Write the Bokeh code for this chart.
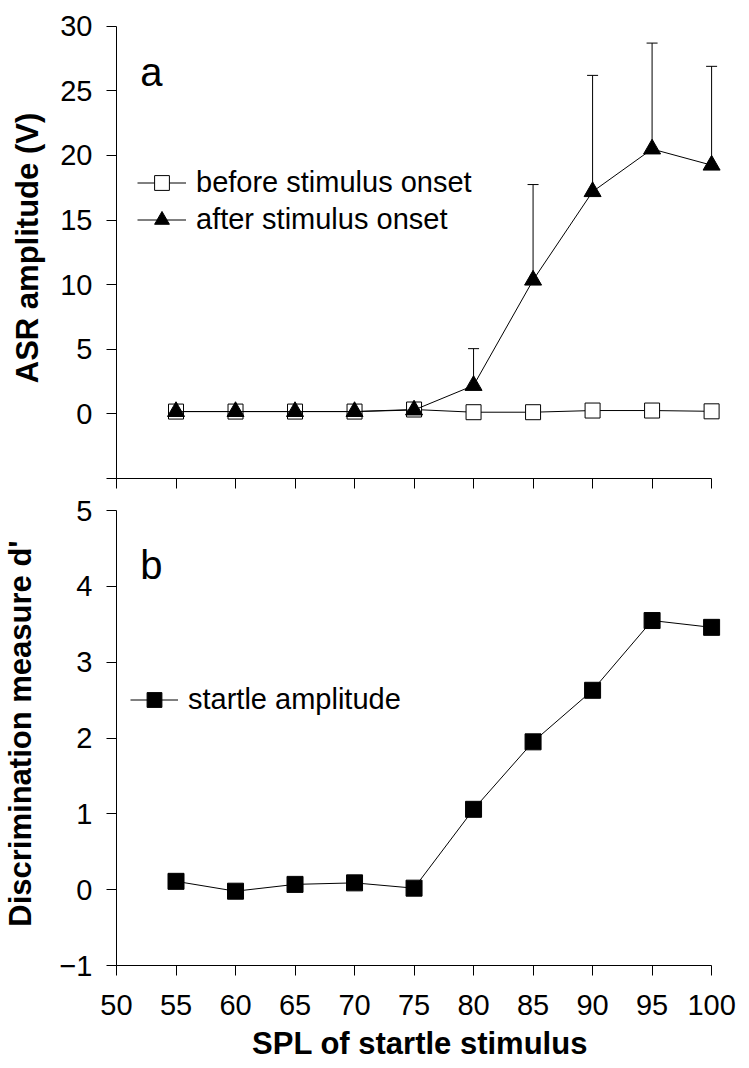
from bokeh.plotting import figure
from bokeh.layouts import column
from bokeh.models import (ColumnDataSource, FixedTicker, Legend, LegendItem,
                          Whisker, TeeHead, Label, Range1d)
from bokeh.embed import file_html
from bokeh.resources import INLINE

# ---- data ----
spl = [55, 60, 65, 70, 75, 80, 85, 90, 95, 100]
asr_before = [0.18, 0.18, 0.18, 0.18, 0.34, 0.13, 0.13, 0.26, 0.26, 0.20]
asr_after = [0.18, 0.18, 0.18, 0.18, 0.30, 2.20, 10.35, 17.20, 20.50, 19.25]
asr_after_sd = [0.0, 0.0, 0.0, 0.0, 0.0, 2.85, 7.40, 9.00, 8.20, 7.65]
dprime = [0.11, -0.02, 0.07, 0.09, 0.02, 1.06, 1.95, 2.63, 3.55, 3.46]

x_ticks = [50, 55, 60, 65, 70, 75, 80, 85, 90, 95, 100]
y_ticks_a = [-5, 0, 5, 10, 15, 20, 25, 30]
y_ticks_b = [-1, 0, 1, 2, 3, 4, 5]

FONT = "Liberation Sans"
TICK_FS = "29px"
TITLE_FS = "31px"

src_a = ColumnDataSource(dict(x=spl, before=asr_before, after=asr_after))
err_x = [x for x, s in zip(spl, asr_after_sd) if s > 0]
err_y = [y for y, s in zip(asr_after, asr_after_sd) if s > 0]
err_up = [y + s for y, s in zip(asr_after, asr_after_sd) if s > 0]
src_err = ColumnDataSource(dict(x=err_x, y=err_y, upper=err_up))
src_b = ColumnDataSource(dict(x=spl, d=dprime))

x_range = Range1d(50, 101)


def style_axes(p):
    for ax in (p.xaxis[0], p.yaxis[0]):
        ax.axis_line_color = "black"
        ax.axis_line_width = 1
        ax.major_tick_line_color = "black"
        ax.major_tick_out = 10
        ax.major_tick_in = 0
        ax.minor_tick_line_color = None
        ax.major_label_text_font = FONT
        ax.major_label_text_font_size = TICK_FS
        ax.major_label_text_color = "black"
        ax.axis_label_text_font = FONT
        ax.axis_label_text_font_size = TITLE_FS
        ax.axis_label_text_font_style = "bold"
        ax.axis_label_text_color = "black"
    p.xgrid.visible = False
    p.ygrid.visible = False
    p.outline_line_color = None
    p.background_fill_color = "white"
    p.border_fill_color = "white"


# ---- panel a ----
pa = figure(frame_width=607, frame_height=461, x_range=x_range,
            y_range=Range1d(-5, 30.68), output_backend="svg",
            toolbar_location=None, min_border_left=109, min_border_right=17,
            min_border_top=17, min_border_bottom=12)
style_axes(pa)
pa.xaxis.ticker = FixedTicker(ticks=x_ticks)
pa.xaxis.bounds = (50, 100)
pa.xaxis.major_label_overrides = {t: "" for t in x_ticks}
pa.xaxis.major_label_text_font_size = "1px"
pa.xaxis.major_label_standoff = 0
pa.yaxis.ticker = FixedTicker(ticks=y_ticks_a)
pa.yaxis.bounds = (-5, 30)
pa.yaxis.major_label_overrides = {-5: ""}
pa.yaxis.major_label_standoff = 14
pa.yaxis.axis_label = "ASR amplitude (V)"
pa.yaxis.axis_label_standoff = 12

lb = pa.line("x", "before", source=src_a, line_color="black", line_width=1)
sb = pa.scatter("x", "before", source=src_a, marker="square", size=15,
                fill_color="white", line_color="black", line_width=1)
la = pa.line("x", "after", source=src_a, line_color="black", line_width=1)
pa.add_layout(Whisker(source=src_err, base="x", upper="upper", lower="y",
                      dimension="height", line_color="black", line_width=1,
                      upper_head=TeeHead(size=11, line_color="black", line_width=1),
                      lower_head=None))
sa = pa.scatter("x", "after", source=src_a, marker="triangle", size=17,
                fill_color="black", line_color="black")

leg_a = Legend(items=[LegendItem(label="before stimulus onset", renderers=[lb, sb]),
                      LegendItem(label="after stimulus onset", renderers=[la, sa])],
               location=(21, 240), glyph_width=49, glyph_height=37,
               label_height=37, label_standoff=10, spacing=0, padding=0,
               margin=0, border_line_color=None, background_fill_alpha=0,
               label_text_font=FONT, label_text_font_size="29px",
               label_text_color="black")
pa.add_layout(leg_a)
pa.add_layout(Label(x=52.0, y=26.5, text="a", text_font=FONT,
                    text_font_size="40px", text_color="black",
                    text_baseline="alphabetic"))

# ---- panel b ----
pb = figure(frame_width=607, frame_height=464, x_range=x_range,
            y_range=Range1d(-1, 5.12), output_backend="svg",
            toolbar_location=None, min_border_left=109, min_border_right=17,
            min_border_top=11, min_border_bottom=0)
style_axes(pb)
pb.xaxis.ticker = FixedTicker(ticks=x_ticks)
pb.xaxis.bounds = (50, 100)
pb.xaxis.major_label_standoff = 19
pb.xaxis.axis_label = "SPL of startle stimulus"
pb.xaxis.axis_label_standoff = 8
pb.yaxis.ticker = FixedTicker(ticks=y_ticks_b)
pb.yaxis.bounds = (-1, 5)
pb.yaxis.major_label_standoff = 14
pb.yaxis.axis_label = "Discrimination measure d'"
pb.yaxis.axis_label_standoff = 18

ld = pb.line("x", "d", source=src_b, line_color="black", line_width=1)
sd = pb.scatter("x", "d", source=src_b, marker="square", size=16,
                fill_color="black", line_color="black")
leg_b = Legend(items=[LegendItem(label="startle amplitude", renderers=[ld, sd])],
               location=(14, 247), glyph_width=48, glyph_height=37,
               label_height=37, label_standoff=10, spacing=0, padding=0,
               margin=0, border_line_color=None, background_fill_alpha=0,
               label_text_font=FONT, label_text_font_size="29px",
               label_text_color="black")
pb.add_layout(leg_b)
pb.add_layout(Label(x=52.0, y=4.28, text="b", text_font=FONT,
                    text_font_size="40px", text_color="black",
                    text_baseline="alphabetic"))

layout = column(pa, pb, spacing=0)
open("out.html", "w").write(file_html(layout, INLINE))
